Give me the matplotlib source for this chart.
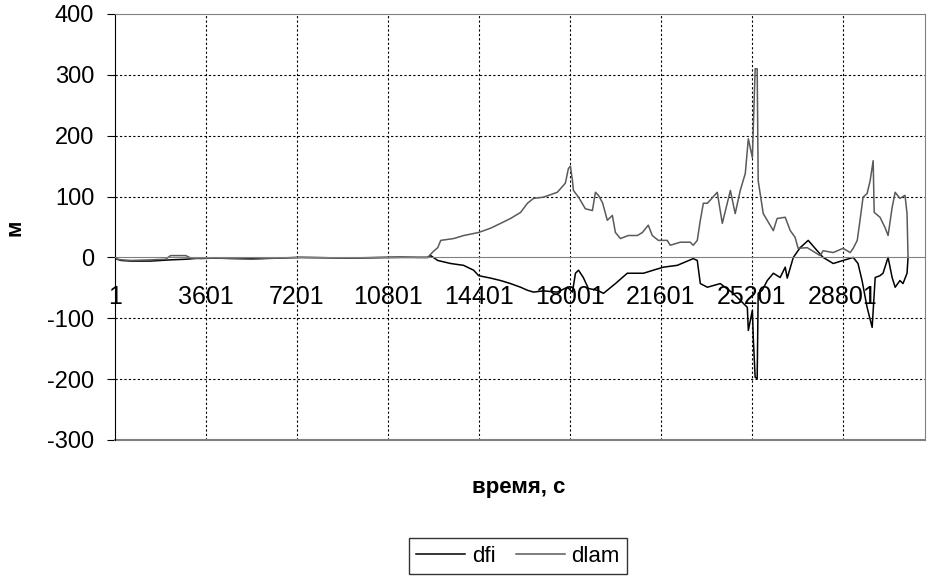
import matplotlib
matplotlib.use("Agg")
import matplotlib.pyplot as plt

plt.rcParams['font.family'] = ['Liberation Sans', 'DejaVu Sans']
plt.rcParams['axes.unicode_minus'] = False

# values: time (s) and deviation (m)
dfi_t = [1, 240, 640, 1420, 2200, 2800, 3400, 5400, 7350, 9300, 11300, 12370,
         12490, 12770, 13280, 13790, 14190, 14390, 14860, 15260, 15650, 16050,
         16320, 16560, 16950, 17500, 17900, 18100, 18220, 18340, 18530, 18730,
         19090, 19330, 19800, 20270, 20910, 21300, 21700, 22250, 22880, 23040,
         23160, 23440, 23950, 24460, 25020, 25060, 25220, 25260, 25330, 25410,
         25450, 25610, 25810, 26050, 26320, 26520, 26600, 26840, 27110, 27430,
         27700, 28020, 28420, 28810, 29210, 29400, 29560, 29760, 29960, 30080,
         30270, 30390, 30590, 30750, 30870, 31060, 31180, 31340, 31380]
dfi_v = [-2, -5, -6, -6, -4, -3, -1, -2, 0, -1, 0, 0,
         3, -5, -10, -13, -21, -30, -34, -38, -43, -49,
         -54, -57, -55, -57, -49, -57, -26, -21, -33, -51,
         -54, -59, -43, -26, -26, -21, -16, -13, -2, -5,
         -43, -49, -43, -59, -82, -120, -87, -136, -197, -199,
         -59, -54, -38, -26, -33, -16, -34, 0, 16, 28,
         15, 0, -10, -5, 0, -10, -38, -82, -115, -33,
         -30, -26, 0, -33, -49, -38, -43, -26, 0]

dlam_t = [1, 240, 640, 1420, 2000, 2200, 2800, 3000, 3400, 4000, 5400, 6500,
          7350, 9300, 11300, 12000, 12370, 12600, 12770, 12890, 13400, 13800,
          14390, 14860, 15260, 15650, 16050, 16320, 16560, 16950, 17500, 17820,
          17940, 18020, 18100, 18140, 18340, 18610, 18890, 19010, 19130, 19290,
          19480, 19680, 19800, 20000, 20310, 20670, 20870, 21100, 21260, 21500,
          21850, 21970, 22370, 22760, 22880, 23040, 23160, 23280, 23440, 23830,
          24030, 24350, 24540, 24740, 24940, 25060, 25220, 25330, 25410, 25450,
          25650, 26050, 26200, 26520, 26720, 26910, 27030, 27390, 27900, 28020,
          28420, 28810, 29090, 29210, 29370, 29480, 29600, 29760, 29880, 30000,
          30040, 30270, 30470, 30590, 30750, 30870, 31060, 31260, 31340, 31380]
dlam_v = [-2, -4, -5, -4, -3, 3, 3, -1, -2, -1, -3, -1,
          0, -1, 1, 0, 0, 10, 16, 28, 31, 36,
          41, 48, 56, 64, 74, 89, 97, 99, 107, 122,
          146, 150, 126, 110, 99, 80, 77, 107, 102, 90,
          61, 69, 41, 31, 36, 36, 41, 53, 36, 28,
          28, 20, 25, 25, 20, 28, 61, 89, 89, 107,
          56, 110, 72, 110, 138, 195, 164, 310, 310, 126,
          72, 44, 64, 66, 44, 33, 15, 16, 3, 11,
          8, 15, 8, 15, 28, 61, 99, 105, 126, 159,
          74, 66, 49, 36, 82, 107, 97, 102, 72, 0]

x_ticks = [1, 3601, 7201, 10801, 14401, 18001, 21601, 25201, 28801]
y_ticks = [-300, -200, -100, 0, 100, 200, 300, 400]

fig = plt.figure(figsize=(9.3, 5.83), dpi=100)
ax = fig.add_axes([0.1237, 0.2453, 0.8709, 0.7307])

ax.plot(dfi_t, dfi_v, color='black', lw=1.1, label='dfi')
ax.plot(dlam_t, dlam_v, color='#5a5a5a', lw=1.1, label='dlam')

ax.set_xlim(1, 32050)
ax.set_ylim(-300, 400)

# dotted grid like the spreadsheet original
for yv in y_ticks:
    if yv not in (0, -300, 400):
        ax.axhline(yv, color='black', lw=0.8, ls=(0, (2, 2)), zorder=0)
for xv in x_ticks[1:]:
    ax.axvline(xv, color='black', lw=0.8, ls=(0, (2, 2)), zorder=0)

# category axis crosses at zero
ax.spines['bottom'].set_position(('data', 0))
ax.spines['bottom'].set_color('#808080')
ax.spines['top'].set_color('#808080')
ax.spines['right'].set_color('#808080')
ax.spines['left'].set_color('black')
ax.axhline(-300, color='#808080', lw=1.5, clip_on=False)

ax.set_xticks(x_ticks)
ax.set_xticklabels([str(v) for v in x_ticks])
ax.tick_params(axis='x', length=0, pad=20, labelsize=18)
ax.set_yticks(y_ticks)
ax.tick_params(axis='y', direction='out', length=6, pad=9, labelsize=17)

fig.text(0.558, 1 - 487 / 583, 'время, с', ha='center', va='center',
         fontsize=16, fontweight='bold')
fig.text(0.016, 1 - 228 / 583, 'м', ha='center', va='center',
         fontsize=16, fontweight='bold', rotation=90)

fig.legend(loc='center', bbox_to_anchor=(518 / 930, 1 - 556 / 583), ncol=2,
           fontsize=16, frameon=True, fancybox=False, edgecolor='black',
           handlelength=2.2, handletextpad=0.3, columnspacing=0.9,
           borderpad=0.35)

fig.savefig('out.png', dpi=100)
